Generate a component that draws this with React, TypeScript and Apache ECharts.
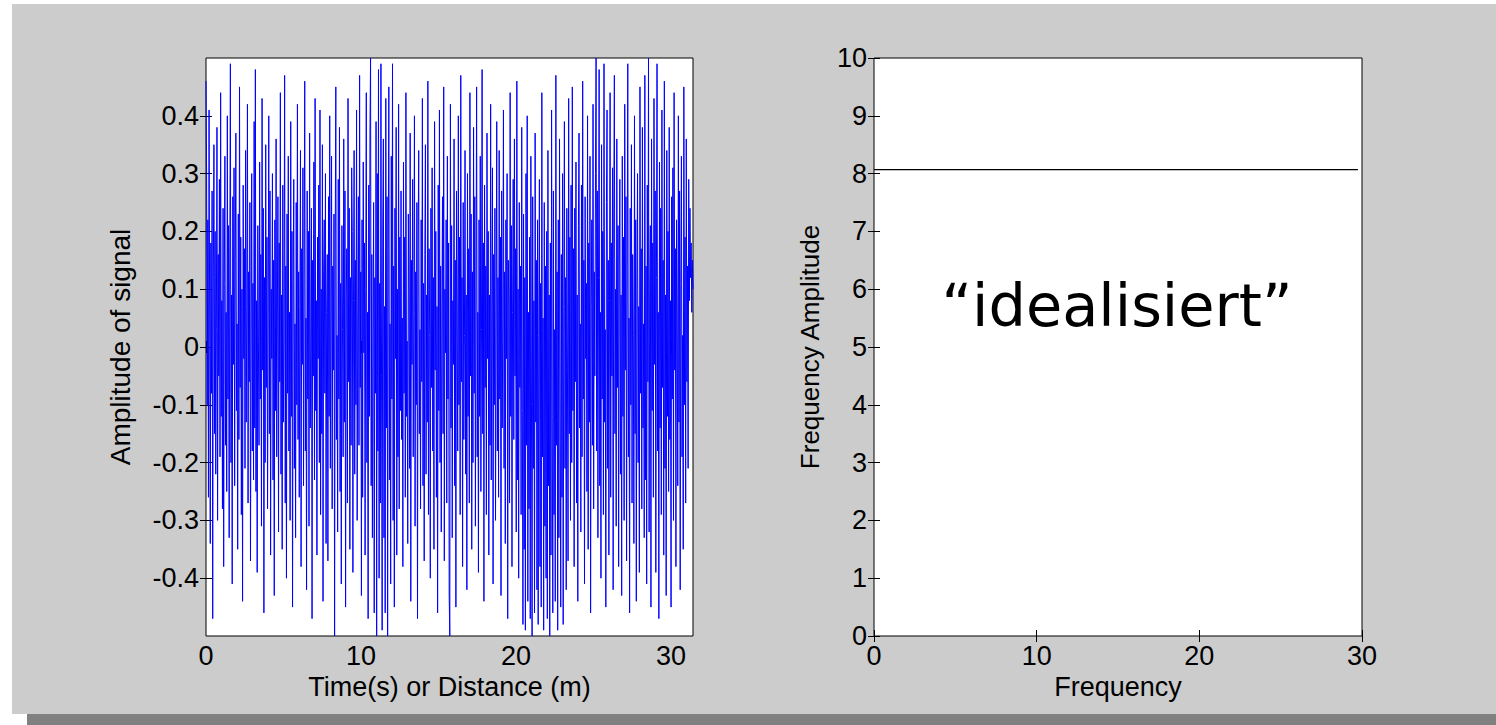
import React, { useEffect, useRef } from "react";
import * as echarts from "echarts";

// ---- data ----
const signalValues: number[] = [
  0.46, 0.30, -0.10, 0.22, -0.26, 0.41, 0.05, -0.34, 0.18, -0.08, 0.27, -0.47, 0.12, 0.35, -0.15, 0.20, -0.22, 0.03, 0.38, -0.30, 0.16, -0.05, 0.29, -0.19, 0.44, -0.12, 0.08, -0.28, 0.24, -0.38, 0.11, 0.33, -0.17, 0.06, -0.25, 0.40, -0.09, 0.21, -0.33, 0.14,
  0.49, -0.20, 0.09, -0.41, 0.26, -0.03, 0.31, -0.24, 0.15, 0.37, -0.11, 0.04, -0.35, 0.23, -0.16, 0.45, -0.07, 0.19, -0.29, 0.10, -0.44, 0.28, -0.02, 0.17, -0.21, 0.34, -0.13, 0.07, 0.42, -0.27, 0.13, -0.06, 0.25, -0.37, 0.02, 0.30, -0.18, 0.11, -0.23, 0.39,
  -0.14, 0.48, -0.25, 0.08, -0.39, 0.21, 0.01, -0.17, 0.32, -0.09, 0.16, -0.31, 0.43, -0.04, 0.24, -0.46, 0.12, -0.20, 0.35, -0.07, 0.19, -0.28, 0.05, 0.40, -0.15, 0.27, -0.36, 0.10, -0.02, 0.30, -0.23, 0.15, -0.43, 0.22, -0.11, 0.36, -0.19, 0.04, 0.26, -0.32,
  0.18, -0.06, 0.44, -0.22, 0.09, -0.35, 0.28, -0.13, 0.02, 0.47, -0.27, 0.14, -0.40, 0.23, -0.08, 0.33, -0.18, 0.06, -0.30, 0.39, -0.12, 0.20, -0.45, 0.11, 0.29, -0.21, 0.04, -0.33, 0.25, -0.10, 0.42, -0.16, 0.13, -0.26, 0.07, 0.34, -0.38, 0.17, -0.03, 0.31,
  -0.24, 0.12, 0.46, -0.18, 0.05, -0.42, 0.27, -0.09, 0.20, -0.31, 0.37, -0.14, 0.01, 0.24, -0.47, 0.15, -0.05, 0.32, -0.23, 0.43, -0.11, 0.08, -0.36, 0.19, -0.02, 0.28, -0.20, 0.41, -0.29, 0.10, -0.15, 0.35, -0.44, 0.13, 0.22, -0.08, 0.30, -0.34, 0.06, 0.16,
  -0.37, 0.26, -0.12, 0.40, -0.21, 0.07, 0.33, -0.28, 0.14, -0.04, 0.23, -0.50, 0.18, 0.45, -0.16, 0.02, -0.32, 0.29, -0.09, 0.38, -0.25, 0.11, -0.41, 0.21, 0.03, -0.19, 0.36, -0.13, 0.27, -0.45, 0.09, 0.17, -0.27, 0.43, -0.06, 0.24, -0.35, 0.12, -0.17, 0.31,
  0.20, -0.39, 0.08, 0.34, -0.22, 0.15, -0.10, 0.41, -0.30, 0.04, 0.26, -0.17, 0.47, -0.07, 0.13, -0.43, 0.22, -0.26, 0.32, -0.01, 0.18, -0.36, 0.10, 0.44, -0.20, 0.06, -0.47, 0.28, -0.12, 0.37, 0.50, -0.24, 0.16, -0.33, 0.02, 0.25, -0.46, 0.12, -0.08, 0.39,
  -0.50, 0.30, -0.18, 0.48, -0.40, 0.11, -0.27, 0.49, -0.05, -0.49, 0.21, 0.36, -0.33, 0.07, -0.46, 0.43, -0.14, 0.26, -0.50, 0.17, 0.45, -0.23, 0.04, -0.41, 0.33, -0.09, 0.49, -0.30, 0.14, -0.45, 0.24, -0.02, 0.38, -0.36, 0.10, -0.19, 0.42, -0.28, 0.19, -0.11,
  0.27, -0.16, 0.05, -0.38, 0.32, -0.08, 0.19, -0.26, 0.44, -0.12, 0.01, -0.34, 0.23, 0.09, -0.21, 0.37, -0.44, 0.15, -0.03, 0.29, -0.19, 0.06, 0.40, -0.31, 0.13, -0.10, 0.25, -0.47, 0.18, 0.34, -0.15, 0.03, -0.28, 0.22, -0.06, 0.43, -0.24, 0.11, -0.37, 0.16,
  0.35, -0.22, 0.09, -0.13, 0.46, -0.29, 0.17, 0.02, -0.40, 0.24, -0.07, 0.31, -0.18, 0.12, -0.35, 0.39, -0.04, 0.20, -0.26, 0.07, -0.46, 0.28, -0.11, 0.41, -0.20, 0.14, -0.32, 0.05, 0.26, -0.15, 0.45, -0.37, 0.10, -0.01, 0.22, -0.27, 0.33, -0.09, 0.18, -0.43,
  -0.50, 0.42, -0.14, 0.21, -0.33, 0.08, -0.03, 0.36, -0.24, 0.15, -0.45, 0.27, 0.04, -0.18, 0.40, -0.10, 0.19, -0.29, 0.47, -0.06, 0.12, -0.38, 0.25, -0.16, 0.02, 0.34, -0.22, 0.09, -0.42, 0.30, -0.12, 0.17, -0.27, 0.44, -0.05, 0.23, -0.35, 0.13, -0.20, 0.38,
  -0.08, 0.26, -0.31, 0.11, 0.45, -0.19, 0.06, -0.39, 0.22, -0.12, 0.33, -0.25, 0.03, 0.48, -0.15, 0.18, -0.44, 0.28, -0.07, 0.14, -0.29, 0.37, -0.02, 0.20, -0.36, 0.09, -0.17, 0.42, -0.23, 0.07, 0.31, -0.41, 0.16, -0.10, 0.24, -0.30, 0.04, 0.39, -0.18, 0.12,
  -0.26, 0.34, -0.09, 0.19, -0.43, 0.27, -0.14, 0.05, 0.41, -0.21, 0.13, -0.34, 0.22, -0.02, 0.30, -0.47, 0.15, 0.08, -0.27, 0.44, -0.12, 0.21, -0.38, 0.06, 0.29, -0.16, 0.36, -0.05, 0.17, -0.32, 0.46, -0.23, 0.10, -0.40, 0.25, -0.07, 0.14, -0.29, 0.38, -0.11,
  -0.48, 0.23, -0.35, 0.12, -0.49, 0.30, -0.17, 0.40, -0.44, 0.06, -0.28, 0.19, -0.47, 0.33, -0.10, -0.50, 0.26, -0.21, 0.08, -0.46, 0.37, -0.13, 0.15, -0.42, 0.22, -0.48, 0.02, 0.29, -0.38, 0.11, -0.45, 0.44, -0.19, 0.05, -0.49, 0.25, -0.31, 0.14, -0.40, 0.20,
  -0.47, 0.34, -0.24, 0.09, -0.50, 0.18, -0.36, 0.41, -0.12, -0.46, 0.27, -0.29, 0.03, -0.44, 0.47, -0.17, 0.13, -0.49, 0.22, -0.33, 0.36, -0.08, -0.45, 0.16, -0.26, 0.30, -0.48, 0.07, 0.39, -0.21, 0.12, -0.42, 0.24, -0.04, -0.37, 0.43, -0.15, 0.19, -0.30, 0.28,
  -0.20, 0.45, -0.11, 0.17, -0.38, 0.24, -0.06, 0.32, -0.27, 0.09, -0.44, 0.21, 0.37, -0.14, 0.04, -0.32, 0.28, -0.19, 0.46, -0.09, 0.15, -0.41, 0.26, -0.02, 0.11, -0.25, 0.40, -0.35, 0.18, -0.13, 0.33, -0.46, 0.07, 0.22, -0.17, 0.42, -0.28, 0.13, -0.05, 0.30,
  0.50, -0.18, 0.27, -0.33, 0.12, 0.48, -0.24, 0.06, -0.40, 0.35, -0.09, 0.20, -0.29, 0.49, -0.13, 0.03, -0.45, 0.25, 0.41, -0.21, 0.15, -0.36, 0.08, 0.44, -0.26, 0.18, -0.05, 0.31, -0.42, 0.23, 0.47, -0.15, 0.10, -0.31, 0.36, -0.07, 0.21, -0.38, 0.14, 0.29,
  -0.22, 0.09, -0.43, 0.33, -0.12, 0.19, -0.30, 0.42, -0.04, 0.26, -0.37, 0.13, 0.49, -0.19, 0.05, -0.46, 0.24, -0.10, 0.35, -0.27, 0.16, 0.02, -0.34, 0.40, -0.15, 0.22, -0.44, 0.11, 0.30, -0.20, 0.07, -0.39, 0.45, -0.08, 0.17, -0.28, 0.38, -0.14, 0.04, -0.33,
  0.47, -0.23, 0.14, -0.41, 0.28, -0.06, 0.50, -0.32, 0.10, 0.21, -0.45, 0.36, -0.11, 0.18, -0.26, 0.43, -0.03, 0.27, -0.39, 0.12, 0.49, -0.18, 0.06, -0.47, 0.32, -0.14, 0.24, -0.29, 0.41, -0.07, 0.15, -0.36, 0.46, -0.21, 0.09, -0.43, 0.34, -0.12, 0.20, -0.25,
  0.38, -0.16, 0.08, -0.45, 0.26, -0.09, 0.31, -0.30, 0.44, -0.04, 0.17, -0.38, 0.22, 0.05, -0.24, 0.40, -0.13, 0.27, -0.42, 0.11, 0.33, -0.19, 0.02, -0.35, 0.45, -0.10, 0.19, -0.27, 0.36, -0.06, 0.14, -0.21, 0.29, 0.08, 0.24, 0.12, 0.18, 0.06, 0.15, 0.10,
];
const timeEnd = 31.4159; // 10*pi, sampled evenly
const timeTicks = [0, 10, 20, 30];
const signalTicks = [-0.4, -0.3, -0.2, -0.1, 0, 0.1, 0.2, 0.3, 0.4];

const freqValues = [0, 29.75];
const freqAmplitudes = [8.07, 8.07];
const freqTicks = [0, 10, 20, 30];
const ampTicks = [0, 1, 2, 3, 4, 5, 6, 7, 8, 9, 10];

const leftXName = "Time(s) or Distance (m)";
const leftYName = "Amplitude of signal";
const rightXName = "Frequency";
const rightYName = "Frequency Amplitude";
const annotation = "\u201Cidealisiert\u201D";

const FONT = "'Liberation Sans', Arial, Helvetica, sans-serif";
const FS = 27;

export default function App() {
  const ref = useRef<HTMLDivElement>(null);

  useEffect(() => {
    document.body.style.margin = "0";
    if (!ref.current) return;
    const chart = echarts.init(ref.current, undefined, { renderer: "svg" });

    const n = signalValues.length;
    const signalData = signalValues.map((v, i) => [(i * timeEnd) / (n - 1), v]);
    const freqData = freqValues.map((f, i) => [f, freqAmplitudes[i]]);

    const tickStyle = { inside: true, length: 6, lineStyle: { color: "#000", width: 1 } };
    const labelStyle = { color: "#000", fontFamily: FONT, fontSize: FS };

    const xAxisBase = (gridIndex: number, max: number, ticks: number[], pos: string, withLabels: boolean, name?: string) => ({
      type: "value",
      gridIndex,
      position: pos,
      min: 0,
      max,
      axisLine: { show: false },
      axisTick: { ...tickStyle, customValues: ticks },
      axisLabel: withLabels
        ? { ...labelStyle, margin: 6, customValues: ticks }
        : { show: false },
      splitLine: { show: false },
      name: name || "",
      nameLocation: "middle",
      nameGap: 36,
      nameTextStyle: { color: "#000", fontFamily: FONT, fontSize: FS },
    });

    const yAxisBase = (gridIndex: number, min: number, max: number, ticks: number[], pos: string, withLabels: boolean, fmt: (v: number) => string, name?: string, gap?: number, nameSize?: number) => ({
      type: "value",
      gridIndex,
      position: pos,
      min,
      max,
      axisLine: { show: false },
      axisTick: { ...tickStyle, customValues: ticks },
      axisLabel: withLabels
        ? { ...labelStyle, margin: 7, customValues: ticks, formatter: fmt }
        : { show: false },
      splitLine: { show: false },
      name: name || "",
      nameLocation: "middle",
      nameGap: gap || 50,
      nameTextStyle: { color: "#000", fontFamily: FONT, fontSize: nameSize || FS },
    });

    const sigFmt = (v: number) => (Math.abs(v) < 1e-9 ? "0" : v.toFixed(1));
    const intFmt = (v: number) => String(Math.round(v));

    chart.setOption({
      animation: false,
      backgroundColor: "transparent",
      grid: [
        { left: 206, top: 58, width: 487, height: 578, show: true, backgroundColor: "#ffffff", borderColor: "#000", borderWidth: 1 },
        { left: 874, top: 58, width: 488, height: 578, show: true, backgroundColor: "#ffffff", borderColor: "#000", borderWidth: 1 },
      ],
      xAxis: [
        xAxisBase(0, timeEnd, timeTicks, "bottom", true, leftXName),
        xAxisBase(0, timeEnd, timeTicks, "top", false),
        xAxisBase(1, 30, freqTicks, "bottom", true, rightXName),
        xAxisBase(1, 30, freqTicks, "top", false),
      ],
      yAxis: [
        yAxisBase(0, -0.5, 0.5, signalTicks, "left", true, sigFmt, leftYName, 72, 28),
        yAxisBase(0, -0.5, 0.5, signalTicks, "right", false, sigFmt),
        yAxisBase(1, 0, 10, ampTicks, "left", true, intFmt, rightYName, 51, 26),
        yAxisBase(1, 0, 10, ampTicks, "right", false, intFmt),
      ],
      series: [
        {
          type: "line",
          xAxisIndex: 0,
          yAxisIndex: 0,
          data: signalData,
          showSymbol: false,
          symbol: "none",
          clip: true,
          lineStyle: { color: "#0000ff", width: 1 },
        },
        {
          type: "line",
          xAxisIndex: 2,
          yAxisIndex: 2,
          data: freqData,
          showSymbol: false,
          symbol: "none",
          lineStyle: { color: "#000000", width: 1.2 },
        },
      ],
      graphic: [
        {
          type: "text",
          x: 1117,
          y: 305,
          style: {
            text: annotation,
            fill: "#000",
            font: "59px 'DejaVu Sans', sans-serif",
            textAlign: "center",
            textVerticalAlign: "middle",
          },
        },
      ],
    });

    return () => {
      chart.dispose();
    };
  }, []);

  return (
    <div style={{ position: "relative", width: 1496, height: 725, background: "#ffffff", overflow: "hidden" }}>
      <div style={{ position: "absolute", left: 12, top: 4, width: 1484, height: 710, background: "#cccccc" }} />
      <div style={{ position: "absolute", left: 27, top: 714, width: 1469, height: 11, background: "#808080" }} />
      <div ref={ref} style={{ position: "absolute", left: 0, top: 0, width: 1496, height: 725 }} />
    </div>
  );
}
